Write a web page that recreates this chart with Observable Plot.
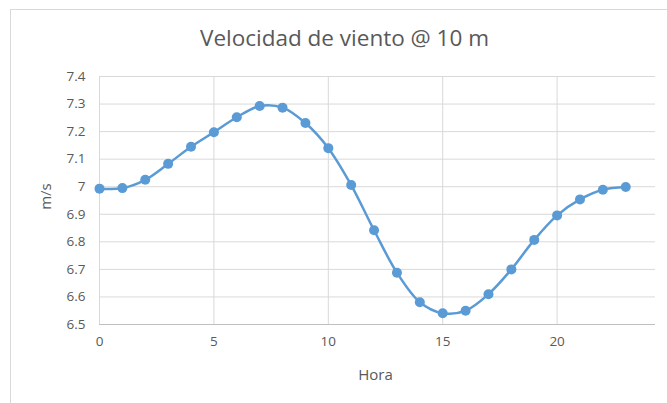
<!DOCTYPE html>
<html>
<head>
<meta charset="utf-8">
<script src="https://cdn.jsdelivr.net/npm/d3@7"></script>
<script src="https://cdn.jsdelivr.net/npm/@observablehq/plot@0.6"></script>
<style>
  html, body { margin: 0; padding: 0; background: #fff; }
  #wrap { position: relative; width: 667px; height: 403px; overflow: hidden; font-family: "Open Sans", "Liberation Sans", sans-serif; }
  #frame { position: absolute; left: 10px; top: 9px; width: 700px; height: 420px; border: 1px solid #d9d9d9; box-sizing: border-box; }
  #title { position: absolute; left: 198px; top: 22px; width: 293px; text-align: center; font-size: 22.5px; color: #595959; white-space: nowrap; }
  #chart { position: absolute; left: 0; top: 0; }
</style>
</head>
<body>
<div id="wrap">
  <div id="frame"></div>
  <div id="title">Velocidad de viento @ 10 m</div>
  <div id="chart"></div>
</div>
<script>
const hours = [0,1,2,3,4,5,6,7,8,9,10,11,12,13,14,15,16,17,18,19,20,21,22,23];
const speeds = [6.993,6.995,7.025,7.083,7.145,7.198,7.252,7.293,7.287,7.231,7.140,7.006,6.842,6.688,6.581,6.541,6.550,6.610,6.700,6.807,6.896,6.954,6.989,6.999];
const xTicks = [0,5,10,15,20];
const yTicks = [6.5,6.6,6.7,6.8,6.9,7.0,7.1,7.2,7.3,7.4];
const xLabel = "Hora";
const yLabel = "m/s";

const data = hours.map((h, i) => ({hora: h, v: speeds[i]}));
const color = "#5b9bd5";

const chart = Plot.plot({
  width: 667,
  height: 403,
  marginLeft: 99,
  marginRight: 12,
  marginTop: 76,
  marginBottom: 79,
  style: {fontFamily: "'Open Sans', 'Liberation Sans', sans-serif", fontSize: "13px", color: "#595959", background: "transparent"},
  x: {domain: [0, 24.3], ticks: xTicks, label: null},
  y: {domain: [6.5, 7.4], ticks: yTicks, label: null},
  marks: [
    Plot.gridX(xTicks, {stroke: "#d9d9d9", strokeOpacity: 1, strokeWidth: 1}),
    Plot.gridY(yTicks, {stroke: "#d9d9d9", strokeOpacity: 1, strokeWidth: 1}),
    Plot.ruleY([6.5], {stroke: "#bfbfbf", strokeWidth: 1}),
    Plot.axisY(yTicks, {tickSize: 0, tickPadding: 14, tickFormat: d => String(+d.toFixed(1)), fill: "#595959", fontSize: 13.5, label: null}),
    Plot.axisX(xTicks, {tickSize: 0, tickPadding: 12, fill: "#595959", fontSize: 13.5, label: null}),
    Plot.text([yLabel], {frameAnchor: "left", textAnchor: "middle", lineAnchor: "middle", dx: -53, dy: -4, rotate: -90, fontSize: 15, fill: "#595959"}),
    Plot.text([xLabel], {frameAnchor: "bottom", textAnchor: "middle", lineAnchor: "middle", dy: 51, dx: -2, fontSize: 15, fill: "#595959"}),
    Plot.line(data, {x: "hora", y: "v", stroke: color, strokeWidth: 2.5, curve: "catmull-rom"}),
    Plot.dot(data, {x: "hora", y: "v", fill: color, r: 5})
  ]
});
document.getElementById("chart").appendChild(chart);
</script>
</body>
</html>
